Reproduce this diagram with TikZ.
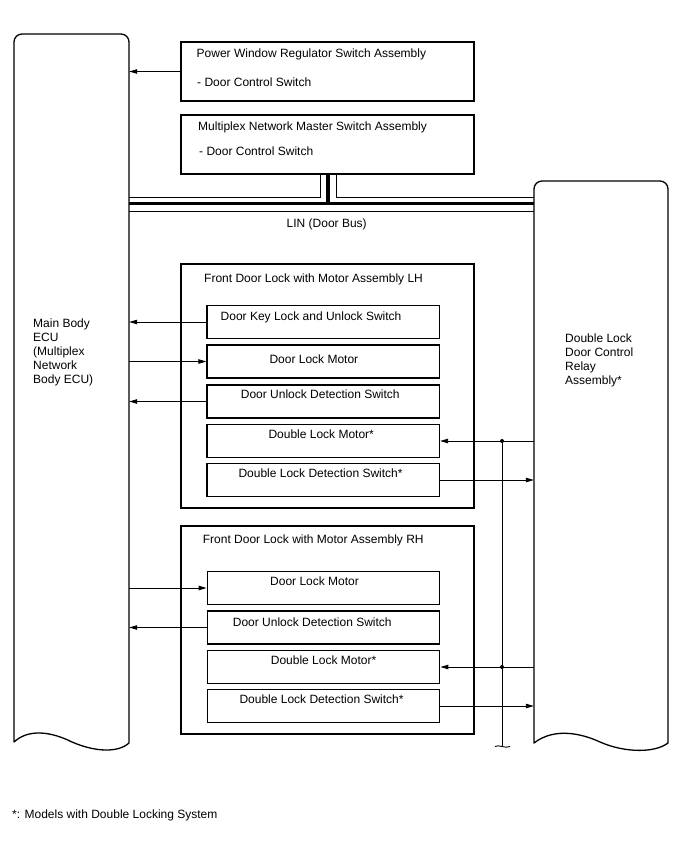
\documentclass[tikz,border=0pt]{standalone}
\usepackage{fontspec}
\setmainfont{Liberation Sans}
\usetikzlibrary{arrows.meta}
\begin{document}
\begin{tikzpicture}[x=1pt,y=-1pt,
  txt/.style={font=\fontsize{12}{14}\selectfont, inner sep=0pt, anchor=base west},
  mtxt/.style={font=\fontsize{12}{14}\selectfont, inner sep=0pt, anchor=north west, align=left},
  box/.style={draw, line width=1.3pt, inner sep=0pt},
  outerbox/.style={box, minimum width=293pt},
  innerbox/.style={box, minimum width=232.5pt, minimum height=33pt},
  col/.style={inner sep=0pt},
  colline/.style={line width=1.3pt, line join=round},
  wire/.style={line width=0.9pt},
  arr/.style={wire, -{Triangle[length=8pt,width=4.5pt]}},
  dot/.style={circle, fill=black, inner sep=0pt, minimum size=4pt}
]
\useasboundingbox (0,0) rectangle (688,852);

% columns (invisible anchors)
\node[col, minimum width=115pt, minimum height=712pt] (ecu) at (71.5,390) {};
\node[col, minimum width=134pt, minimum height=565pt] (relay) at (601,463.5) {};

% left column shape
\draw[colline] (14,742) -- (14,42) arc[start angle=180, end angle=270, radius=8] -- (121,34)
  arc[start angle=270, end angle=360, radius=8] -- (129,743)
  .. controls (118,753) and (95,752) .. (72,742)
  .. controls (50,731) and (28,729) .. (14,742) -- cycle;
% right column shape
\draw[colline] (534,743) -- (534,189) arc[start angle=180, end angle=270, radius=8] -- (660,181)
  arc[start angle=270, end angle=360, radius=8] -- (668,743)
  .. controls (655,753) and (625,753) .. (600,742)
  .. controls (585,735) and (556,726) .. (534,743) -- cycle;

\node[mtxt] (ecutxt) at (33,318.5) {Main Body\\ECU\\(Multiplex\\Network\\Body ECU)};
\node[mtxt] (relaytxt) at (565,333.5) {Double Lock\\Door Control\\Relay\\Assembly*};

% top boxes
\node[outerbox, minimum height=59pt] (pwr) at (327.5,71.5) {};
\node[txt] (pwrt1) at (196.5,57) {Power Window Regulator Switch Assembly};
\node[txt] (pwrt2) at (197,86) {- Door Control Switch};
\node[outerbox, minimum height=59pt] (mpx) at (327.5,144.5) {};
\node[txt] (mpxt1) at (198,130) {Multiplex Network Master Switch Assembly};
\node[txt] (mpxt2) at (199,155) {- Door Control Switch};

% LIN bus
\coordinate (l1) at (320,197.5);
\coordinate (l2) at (328,203.5);
\coordinate (l3) at (336,197.5);
\coordinate (l4) at (328,211);
\draw[wire] (l1 |- mpx.south) -- (l1) -- (l1 -| ecu.east);
\draw[wire] (l3 |- mpx.south) -- (l3) -- (l3 -| relay.west);
\draw[line width=3.2pt] (l2 |- mpx.south) -- (l2);
\draw[line width=3.2pt] (l2 -| ecu.east) -- (l2 -| relay.west);
\draw[wire] (l4 -| ecu.east) -- (l4 -| relay.west);
\node[txt] (lin) at (286.5,227.5) {LIN (Door Bus)};

% LH assembly
\node[outerbox, minimum height=244pt] (lh) at (327.5,386) {};
\node[txt] (lht) at (204,282) {Front Door Lock with Motor Assembly LH};
\node[innerbox] (dkey) at (323.25,322) {};
\node[txt] (dkeyt) at (220.5,320.3) {Door Key Lock and Unlock Switch};
\node[innerbox] (dlm) at (323.25,361.5) {};
\node[txt] (dlmt) at (269.3,363.6) {Door Lock Motor};
\node[innerbox] (dud) at (323.25,401.5) {};
\node[txt] (dudt) at (240.7,398.6) {Door Unlock Detection Switch};
\node[innerbox] (dblm) at (323.25,441) {};
\node[txt] (dblmt) at (268.3,438.6) {Double Lock Motor*};
\node[innerbox] (dbld) at (323.25,480) {};
\node[txt] (dbldt) at (238.3,477) {Double Lock Detection Switch*};

% RH assembly
\node[outerbox, minimum height=208pt] (rh) at (327.5,630) {};
\node[txt] (rht) at (202.7,543.3) {Front Door Lock with Motor Assembly RH};
\node[innerbox] (rdlm) at (323.5,588) {};
\node[txt] (rdlmt) at (270,585) {Door Lock Motor};
\node[innerbox] (rdud) at (323.5,627.5) {};
\node[txt] (rdudt) at (232.7,626.6) {Door Unlock Detection Switch};
\node[innerbox] (rdblm) at (323.5,667) {};
\node[txt] (rdblmt) at (270.7,664.3) {Double Lock Motor*};
\node[innerbox] (rdbld) at (323.5,706) {};
\node[txt] (rdbldt) at (239.3,703.6) {Double Lock Detection Switch*};

% connectors to ECU
\draw[arr] (pwr.west) -- (pwr.west -| ecu.east);
\draw[arr] (dkey.west) -- (dkey.west -| ecu.east);
\draw[arr] (dlm.west -| ecu.east) -- (dlm.west);
\draw[arr] (dud.west) -- (dud.west -| ecu.east);
\draw[arr] (rdlm.west -| ecu.east) -- (rdlm.west);
\draw[arr] (rdud.west) -- (rdud.west -| ecu.east);

% connectors to relay
\draw[arr] (dblm.east -| relay.west) -- (dblm.east);
\draw[arr] (dbld.east) -- (dbld.east -| relay.west);
\draw[arr] (rdblm.east -| relay.west) -- (rdblm.east);
\draw[arr] (rdbld.east) -- (rdbld.east -| relay.west);

% common line
\coordinate (gnd) at (502,746);
\draw[wire] (dblm.east -| gnd) -- (gnd);
\draw[wire] (495,746.5) .. controls (499,744) and (505,749) .. (510,746.5);
\node[dot] (j1) at (dblm.east -| gnd) {};
\node[dot] (j2) at (rdblm.east -| gnd) {};

% footnote
\node[txt] (note) at (12,818) {*: Models with Double Locking System};
\end{tikzpicture}
\end{document}
